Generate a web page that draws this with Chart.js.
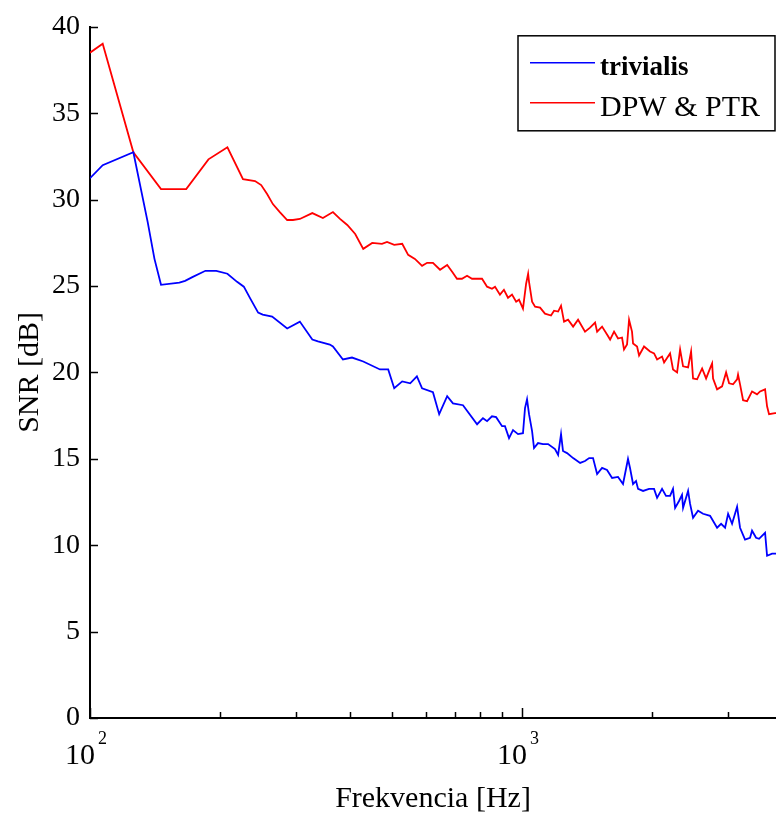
<!DOCTYPE html>
<html>
<head>
<meta charset="utf-8">
<script src="https://cdn.jsdelivr.net/npm/chart.js@4/dist/chart.umd.min.js"></script>
<style>
  html, body { margin: 0; padding: 0; background: #fff; }
  #snrChart { display: block; }
</style>
</head>
<body>
<canvas id="snrChart" width="776" height="814"></canvas>
<script>
const seriesNames = ['trivialis', 'DPW & PTR'];

// frequency [Hz] and SNR [dB]
const freqTrivialis = [
  100, 107, 126, 136, 141, 146, 161, 166, 173, 185,
  196, 208, 219, 227, 235, 245, 251, 264, 286, 306,
  327, 337, 359, 365, 385, 404, 429, 469, 490, 506,
  528, 551, 571, 587, 622, 643, 671, 692, 730, 787,
  812, 830, 852, 871, 899, 913, 933, 953, 979, 1005,
  1016, 1027, 1038, 1055, 1066, 1089, 1118, 1149, 1192, 1212,
  1231, 1244, 1271, 1313, 1363, 1399, 1430, 1460, 1492, 1532,
  1573, 1616, 1668, 1713, 1759, 1778, 1807, 1836, 1856, 1906,
  1968, 2021, 2054, 2109, 2154, 2201, 2236, 2261, 2309, 2346,
  2359, 2423, 2449, 2488, 2555, 2624, 2724, 2828, 2889, 2951,
  2999, 3063, 3146, 3196, 3282, 3371, 3407, 3481, 3537, 3652,
  3691, 3791, 3871
];
const snrTrivialis = [
  31.24, 31.99, 32.74, 28.7, 26.57, 25.07, 25.19, 25.3, 25.53, 25.88,
  25.88, 25.71, 25.24, 24.96, 24.27, 23.46, 23.34, 23.23, 22.54, 22.94,
  21.9, 21.79, 21.61, 21.5, 20.75, 20.86, 20.63, 20.17, 20.17, 19.08,
  19.48, 19.37, 19.77, 19.08, 18.85, 17.58, 18.62, 18.21, 18.1, 17.0,
  17.35, 17.18, 17.46, 17.41, 16.89, 16.89, 16.2, 16.66, 16.43, 16.48,
  17.93, 18.44, 17.58, 16.6, 15.62, 15.91, 15.85, 15.85, 15.56, 15.22,
  16.43, 15.45, 15.33, 15.04, 14.76, 14.87, 15.04, 15.04, 14.12, 14.47,
  14.35, 13.89, 13.95, 13.54, 14.99, 14.47, 13.54, 13.72, 13.26, 13.14,
  13.26, 13.26, 12.74, 13.26, 12.85, 12.85, 13.26, 12.16, 12.56, 12.91,
  12.16, 13.14, 12.39, 11.59, 11.99, 11.82, 11.7, 11.01, 11.24, 11.01,
  11.82, 11.24, 12.22, 11.01, 10.32, 10.43, 10.84, 10.43, 10.37, 10.72,
  9.39, 9.51, 9.51
];

const freqDpw = [
  100, 107, 126, 146, 167, 188, 208, 226, 241, 249,
  257, 265, 275, 286, 295, 306, 327, 346, 365, 379,
  394, 411, 429, 450, 474, 487, 506, 528, 545, 565,
  587, 603, 622, 646, 671, 689, 707, 726, 746, 766,
  808, 830, 852, 866, 889, 908, 928, 948, 969, 984,
  1005, 1022, 1033, 1038, 1055, 1072, 1101, 1130, 1167, 1186,
  1212, 1231, 1251, 1278, 1313, 1348, 1399, 1437, 1476, 1492,
  1532, 1573, 1599, 1633, 1668, 1704, 1722, 1750, 1769, 1797,
  1807, 1846, 1866, 1916, 1978, 2021, 2054, 2109, 2132, 2201,
  2236, 2285, 2322, 2359, 2423, 2462, 2488, 2542, 2611, 2667,
  2724, 2754, 2768, 2828, 2904, 2967, 3015, 3079, 3146, 3162,
  3196, 3248, 3318, 3407, 3499, 3556, 3652, 3691, 3730, 3851,
  3871
];
const snrDpw = [
  38.5, 39.02, 32.74, 30.61, 30.61, 32.33, 33.03, 31.18, 31.07, 30.84,
  30.32, 29.74, 29.28, 28.82, 28.82, 28.88, 29.22, 28.93, 29.28, 28.88,
  28.53, 28.01, 27.15, 27.49, 27.44, 27.55, 27.38, 27.44, 26.8, 26.57,
  26.17, 26.34, 26.34, 25.94, 26.22, 25.82, 25.42, 25.42, 25.59, 25.42,
  25.42, 24.96, 24.84, 24.96, 24.5, 24.78, 24.32, 24.5, 24.09, 24.21,
  23.69, 25.13, 25.71, 25.24, 24.09, 23.8, 23.75, 23.4, 23.29, 23.57,
  23.52, 23.86, 22.94, 23.05, 22.65, 23.05, 22.36, 22.59, 22.88, 22.36,
  22.65, 22.19, 21.9, 22.36, 21.96, 22.02, 21.33, 21.61, 23.05, 22.36,
  21.67, 21.5, 20.98, 21.5, 21.21, 21.1, 20.75, 20.92, 20.58, 21.1,
  20.17, 20.0, 21.33, 20.35, 20.29, 21.21, 19.65, 19.6, 20.23, 19.65,
  20.23, 20.52, 19.65, 19.02, 19.19, 20.0, 19.37, 19.31, 19.6, 19.88,
  19.31, 18.39, 18.33, 18.9, 18.73, 18.9, 19.02, 18.04, 17.58, 17.64,
  17.64
];

const yTicks = [0, 5, 10, 15, 20, 25, 30, 35, 40];
const xDecades = [100, 1000];
const xMinorTicks = [200, 300, 400, 500, 600, 700, 800, 900, 2000, 3000];
const xMin = 100;
const xMax = 3871;

const FONT = '"Liberation Serif", "Times New Roman", serif';

function toPoints(xs, ys) {
  return xs.map((x, i) => ({ x: x, y: ys[i] }));
}

// inward ticks, 10^n labels and the boxed legend (MATLAB look)
const matlabDecor = {
  id: 'matlabDecor',
  afterDraw(chart) {
    const { ctx, chartArea: a, scales } = chart;
    const x = scales.x, y = scales.y;
    ctx.save();
    ctx.strokeStyle = '#000';
    ctx.lineWidth = 1.5;
    ctx.beginPath();
    yTicks.forEach(v => {
      const py = Math.round(y.getPixelForValue(v)) + 0.5;
      ctx.moveTo(a.left, py);
      ctx.lineTo(a.left + 8, py);
    });
    xMinorTicks.forEach(v => {
      const px = Math.round(x.getPixelForValue(v)) + 0.5;
      ctx.moveTo(px, a.bottom);
      ctx.lineTo(px, a.bottom - 6);
    });
    xDecades.forEach(v => {
      const px = Math.round(x.getPixelForValue(v)) + 0.5;
      ctx.moveTo(px, a.bottom);
      ctx.lineTo(px, a.bottom - 10);
    });
    ctx.stroke();

    ctx.fillStyle = '#000';
    ctx.textBaseline = 'alphabetic';
    xDecades.forEach(v => {
      const px = x.getPixelForValue(v);
      ctx.font = '30px ' + FONT;
      ctx.textAlign = 'right';
      ctx.fillText('10', px + 5, a.bottom + 46);
      ctx.font = '18px ' + FONT;
      ctx.textAlign = 'left';
      ctx.fillText(String(Math.round(Math.log10(v))), px + 8, a.bottom + 26);
    });

    // legend box
    const bx = a.right - 258, by = a.top + 9, bw = 257, bh = 95;
    ctx.fillStyle = '#fff';
    ctx.fillRect(bx, by, bw, bh);
    ctx.lineWidth = 1.5;
    ctx.strokeRect(bx, by, bw, bh);
    chart.data.datasets.forEach((ds, i) => {
      const ly = by + 27 + i * 40;
      ctx.strokeStyle = ds.borderColor;
      ctx.lineWidth = 1.5;
      ctx.beginPath();
      ctx.moveTo(bx + 12, ly);
      ctx.lineTo(bx + 77, ly);
      ctx.stroke();
      ctx.fillStyle = '#000';
      ctx.textAlign = 'left';
      ctx.textBaseline = 'middle';
      ctx.font = i === 0 ? 'bold 27px ' + FONT : '30px ' + FONT;
      ctx.fillText(ds.label, bx + 82, ly + 5);
    });
    ctx.restore();
  }
};

const ctx = document.getElementById('snrChart').getContext('2d');
new Chart(ctx, {
  type: 'line',
  data: {
    datasets: [
      {
        label: seriesNames[0],
        data: toPoints(freqTrivialis, snrTrivialis),
        borderColor: '#0000ff',
        borderWidth: 1.8,
        pointRadius: 0,
        tension: 0,
        fill: false
      },
      {
        label: seriesNames[1],
        data: toPoints(freqDpw, snrDpw),
        borderColor: '#ff0000',
        borderWidth: 1.8,
        pointRadius: 0,
        tension: 0,
        fill: false
      }
    ]
  },
  options: {
    responsive: false,
    animation: false,
    devicePixelRatio: 1,
    layout: { padding: { top: 24, right: 0, bottom: 0, left: 0 } },
    scales: {
      x: {
        type: 'logarithmic',
        min: xMin,
        max: xMax,
        grid: { display: false, drawTicks: false },
        border: { display: true, color: '#000', width: 2 },
        ticks: { display: false },
        title: {
          display: true,
          text: 'Frekvencia [Hz]',
          color: '#000',
          font: { family: FONT, size: 30, lineHeight: 1.0 },
          padding: { top: 0, bottom: 0 }
        },
        afterFit: s => { s.height = 96; }
      },
      y: {
        min: 0,
        max: 40,
        grid: { display: false, drawTicks: false },
        border: { display: true, color: '#000', width: 2 },
        ticks: {
          stepSize: 5,
          color: '#000',
          padding: 10,
          font: { family: FONT, size: 28 }
        },
        title: {
          display: true,
          text: 'SNR [dB]',
          color: '#000',
          font: { family: FONT, size: 30 },
          padding: { top: 12, bottom: 0 }
        },
        afterFit: s => { s.width = 90; }
      }
    },
    plugins: {
      legend: { display: false },
      tooltip: { enabled: false }
    }
  },
  plugins: [matlabDecor]
});
</script>
</body>
</html>
